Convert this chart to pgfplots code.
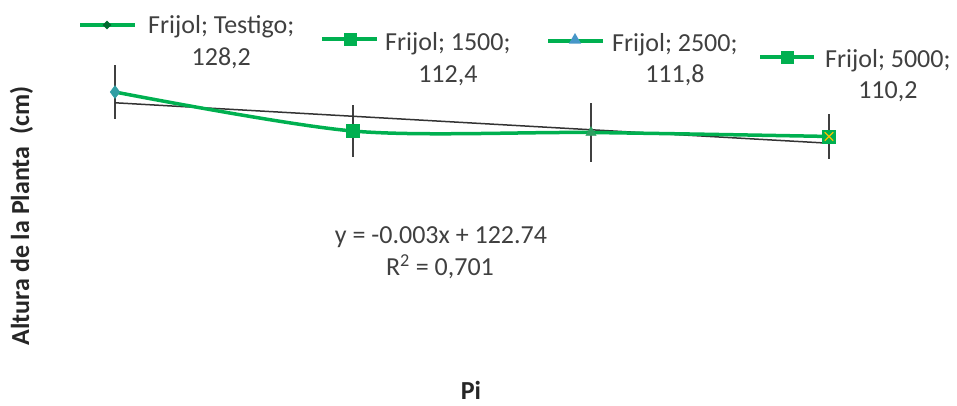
\documentclass[border=0pt]{standalone}
\usepackage{pgfplots}
\pgfplotsset{compat=1.18}
\usepackage{fontspec}
\setmainfont{Carlito}
\usetikzlibrary{shapes.geometric}
\definecolor{lgreen}{RGB}{0,176,80}
\definecolor{dgray}{RGB}{64,64,64}
\definecolor{txt}{RGB}{64,64,64}
\definecolor{dmark}{RGB}{70,150,200}
\definecolor{ymark}{RGB}{255,192,0}
\begin{document}
\begin{tikzpicture}[x=1bp,y=1bp]
\useasboundingbox (0,0) rectangle (957,-405);
\begin{axis}[at={(115bp,-260.454bp)}, anchor=south west, scale only axis,
  width=714bp, height=197.6bp, xmin=1, xmax=4, ymin=60, ymax=140,
  hide axis, clip=false]
% error bars
\addplot[draw=none, mark=none,
  error bars/.cd, y dir=both, y explicit, error mark=none,
  error bar style={dgray, line width=1.6bp}]
  coordinates {(1,128.2) +- (0,10.9) (2,112.4) +- (0,10.5) (3,111.8) +- (0,12.1) (4,110.2) +- (0,9.1)};
% trendline
\addplot[black!80, line width=1.5bp, mark=none] coordinates {(1,123.84) (4,107.46)};
% series
\addplot[lgreen, line width=3.5bp, smooth, tension=0.5, mark=none]
  coordinates {(1,128.2) (2,112.4) (3,111.8) (4,110.2)};
\addplot[only marks, mark=diamond*, mark size=6.5bp, color=dmark!70!lgreen] coordinates {(1,128.2)};
\addplot[only marks, mark=square*, mark size=6.5bp, color=lgreen] coordinates {(2,112.4)};
\addplot[only marks, mark=triangle*, mark size=6bp, color=lgreen!65!gray] coordinates {(3,111.8)};
\addplot[only marks, mark=square*, mark size=6.5bp, color=lgreen] coordinates {(4,110.2)};
\addplot[only marks, mark=x, mark size=6bp, color=ymark, line width=1.2bp] coordinates {(4,110.2)};
\end{axis}
% data label keys
\draw[lgreen, line width=3.5bp] (80,-25) -- (135,-25);
\node[diamond, fill=lgreen!60!black, inner sep=0pt, minimum size=9bp] at (107,-25) {};
\draw[lgreen, line width=3.5bp] (322,-39) -- (377,-39);
\node[rectangle, fill=lgreen, inner sep=0pt, minimum size=13bp] at (350,-39) {};
\draw[lgreen, line width=3.5bp] (548,-41) -- (603,-41);
\node[regular polygon, regular polygon sides=3, fill=dmark, inner sep=0pt, minimum size=14bp] at (575,-40) {};
\draw[lgreen, line width=3.5bp] (760,-57) -- (814,-57);
\node[rectangle, fill=lgreen, inner sep=0pt, minimum size=13bp] at (787,-57) {};
% data label texts
\begin{scope}[every node/.style={text=txt, font=\fontsize{26bp}{31bp}\selectfont, inner sep=0pt}]
\node[anchor=base west] (l1) at (148,-33) {Frijol; Testigo;};
\node[anchor=base] at ([yshift=-32bp]l1.base) {128,2};
\node[anchor=base west] (l2) at (385,-50) {Frijol; 1500;};
\node[anchor=base] at ([yshift=-32bp]l2.base) {112,4};
\node[anchor=base west] (l3) at (612,-51) {Frijol; 2500;};
\node[anchor=base] at ([yshift=-31bp]l3.base) {111,8};
\node[anchor=base west] (l4) at (825,-67) {Frijol; 5000;};
\node[anchor=base] at ([yshift=-31bp]l4.base) {110,2};
\node[anchor=base] at (441,-243) {y = -0.003x + 122.74};
\node[anchor=base] at (440,-275) {R\textsuperscript{2} = 0,701};
\end{scope}
\node[rotate=90, anchor=base, inner sep=0pt, text=black!85, font=\fontsize{26bp}{31bp}\selectfont\bfseries] at (29,-216) {Altura de la Planta\ \ (cm)};
\node[anchor=base, inner sep=0pt, text=black!85, font=\fontsize{26bp}{31bp}\selectfont\bfseries] at (471,-399) {Pi};
\end{tikzpicture}
\end{document}
